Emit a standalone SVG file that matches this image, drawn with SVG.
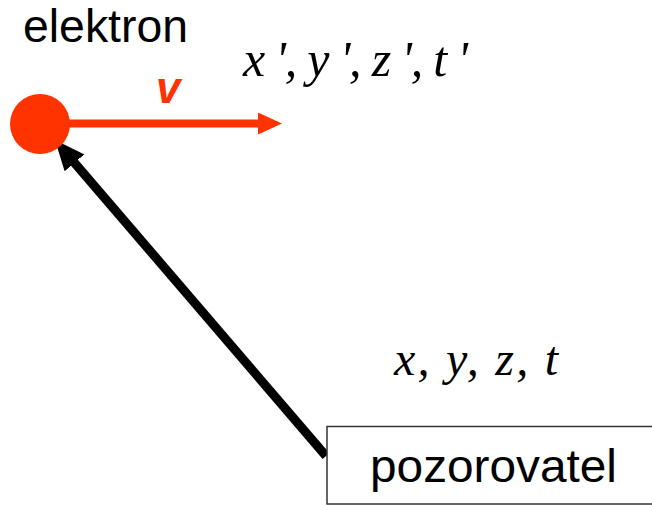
<svg xmlns="http://www.w3.org/2000/svg" width="652" height="505" viewBox="0 0 652 505">
<style>
.sans{font-family:"Liberation Sans",Arial,sans-serif;fill:#000}
.math{font-family:"Liberation Serif","Times New Roman",serif;font-style:italic;fill:#000}
</style>
<defs>
<marker id="redHead" markerUnits="userSpaceOnUse" markerWidth="24" markerHeight="22" refX="4" refY="11" orient="auto">
<path d="M0,0 L24,11 L0,22 Z" fill="#ff3300"/>
</marker>
<marker id="blackHead" markerUnits="userSpaceOnUse" markerWidth="30" markerHeight="26" refX="10" refY="13" orient="auto">
<path d="M0,0 L30,13 L0,26 Z" fill="#000"/>
</marker>
</defs>
<rect width="652" height="505" fill="#fff"/>
<g id="connectors">
<line x1="68" y1="123.5" x2="262" y2="123.5" stroke="#ff3300" stroke-width="8" marker-end="url(#redHead)"/>
<line x1="326" y1="456" x2="68" y2="155.2" stroke="#000" stroke-width="9" marker-end="url(#blackHead)"/>
</g>
<g id="elektron">
<circle cx="40" cy="124" r="30" fill="#ff3300"/>
<text class="sans" x="23" y="42" font-size="46" textLength="165" lengthAdjust="spacingAndGlyphs">elektron</text>
</g>
<g id="velocity-label">
<text x="156" y="103" font-family="Liberation Sans,Arial,sans-serif" font-weight="bold" font-style="italic" font-size="44" fill="#ff3300">v</text>
</g>
<g id="primed-coords">
<text class="math" x="243" y="76" font-size="50" textLength="225" lengthAdjust="spacing">x ', y ', z ', t '</text>
</g>
<g id="coords">
<text class="math" x="394" y="375" font-size="48" textLength="164" lengthAdjust="spacing">x, y, z, t</text>
</g>
<g id="pozorovatel">
<rect x="327" y="426.5" width="340" height="77.5" fill="#fff" stroke="#333" stroke-width="1.5"/>
<text class="sans" x="370" y="482" font-size="47" textLength="247" lengthAdjust="spacingAndGlyphs">pozorovatel</text>
</g>
</svg>
